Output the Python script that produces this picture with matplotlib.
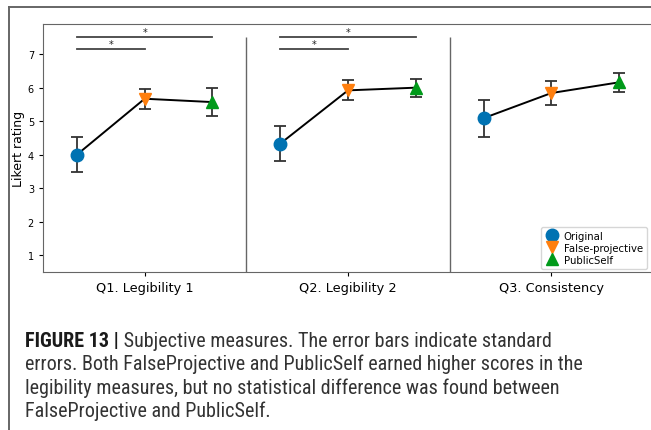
#!/usr/bin/env python3
"""Figure 13 - subjective measures (Likert ratings, mean +/- SE)"""
import matplotlib
matplotlib.use('Agg')
import matplotlib.pyplot as plt
from matplotlib.lines import Line2D
from matplotlib import font_manager

# data
questions = ['Q1. Legibility 1', 'Q2. Legibility 2', 'Q3. Consistency']
conditions = ['Original', 'False-projective', 'PublicSelf']
original_mean = [4.00, 4.33, 5.09]
original_se = [0.53, 0.52, 0.55]
falseproj_mean = [5.67, 5.92, 5.84]
falseproj_se = [0.30, 0.30, 0.35]
publicself_mean = [5.57, 6.00, 6.16]
publicself_se = [0.42, 0.27, 0.29]
# significant pairs: (question index, cond a, cond b)
sig_pairs = [(0, 0, 1), (0, 0, 2), (1, 0, 1), (1, 0, 2)]
sig_levels = {1: 7.14, 2: 7.50}

caption_head = 'FIGURE 13 |'
caption_lines = [
    ' Subjective measures. The error bars indicate standard',
    'errors. Both FalseProjective and PublicSelf earned higher scores in the',
    'legibility measures, but no statistical difference was found between',
    'FalseProjective and PublicSelf.',
]

COLORS = ['#0072b2', '#ff7f0e', '#009a1a']
MARKERS = ['o', 'v', '^']
OFFSETS = [-1/3, 0, 1/3]

W, H = 651, 431
fig = plt.figure(figsize=(W/100, H/100), dpi=100)

def px(x, y):
    return x / W, 1 - y / H

# outer frame (top + left only, the rest is cropped)
fig.add_artist(Line2D([px(9, 0)[0], 1], [px(0, 8)[1]] * 2, color='#666666', lw=1.4))
fig.add_artist(Line2D([px(9, 0)[0]] * 2, [px(0, 8)[1], 0], color='#666666', lw=1.4))

ax = fig.add_axes([43/W, (H-273)/H, (653-43)/W, (273-25)/H])

means = [original_mean, falseproj_mean, publicself_mean]
ses = [original_se, falseproj_se, publicself_se]

for q in range(len(questions)):
    xs = [q + o for o in OFFSETS]
    ys = [m[q] for m in means]
    ax.plot(xs, ys, color='black', lw=1.4, zorder=2)
    for c in range(len(conditions)):
        ax.errorbar(xs[c], ys[c], yerr=ses[c][q], fmt='none', ecolor='#333333',
                    elinewidth=1.3, capsize=4, capthick=1.3, zorder=1)
        ax.plot(xs[c], ys[c], MARKERS[c], color=COLORS[c], markersize=9, zorder=3,
                label=conditions[c] if q == 0 else None)

for q, a, b in sig_pairs:
    y = sig_levels[b]
    xa, xb = q + OFFSETS[a], q + OFFSETS[b]
    ax.plot([xa, xb], [y, y], color='#444444', lw=1.3)
    ax.text((xa + xb) / 2, y + 0.02, '*', ha='center', va='bottom', fontsize=7, color='#222222')

ax.vlines([0.5, 1.5], 0.5, 7.5, color='#666666', lw=1.0)

ax.set_xlim(-0.5, 2.5)
ax.set_ylim(0.5, 7.9)
ax.set_xticks(range(len(questions)))
ax.set_xticklabels(questions, fontsize=9.3)
ax.set_yticks(range(1, 8))
ax.tick_params(axis='y', labelsize=7, length=3)
ax.tick_params(axis='x', length=3)
ax.set_ylabel('Likert rating', fontsize=9, labelpad=2)
for s in ax.spines.values():
    s.set_color('#666666')

ax.legend(loc='lower right', fontsize=7.3, handletextpad=0.6,
          borderpad=0.4, labelspacing=0.2, bbox_to_anchor=(0.995, 0.0),
          handlelength=1.2, borderaxespad=0.3)

# caption - pick a narrow font if one is installed
installed = {f.name for f in font_manager.fontManager.ttflist}
cap_font = 'Liberation Sans'
for name in ['Liberation Sans Narrow', 'Roboto Condensed', 'Open Sans Condensed', 'Arial Narrow']:
    if name in installed:
        cap_font = name
        break

# size so the widest line fits the reference width (25 -> 589 px)
probe = fig.text(0, 0, caption_lines[1], fontsize=14, family=cap_font)
fig.canvas.draw()
cap_size = 14 * 564 / probe.get_window_extent().width
probe.remove()

x0, y0 = px(25, 347)
head = fig.text(x0, y0, caption_head, fontsize=cap_size, fontweight='bold', family=cap_font,
                color='#1a1a1a', va='baseline')
fig.canvas.draw()
bb = head.get_window_extent()
fig.text(bb.x1 / W, y0, caption_lines[0], fontsize=cap_size, family=cap_font,
         color='#333333', va='baseline')
for i, line in enumerate(caption_lines[1:]):
    fig.text(x0, px(0, 370.5 + 23.3 * i)[1], line, fontsize=cap_size, family=cap_font,
             color='#333333', va='baseline')

fig.savefig('out.png', dpi=100)
